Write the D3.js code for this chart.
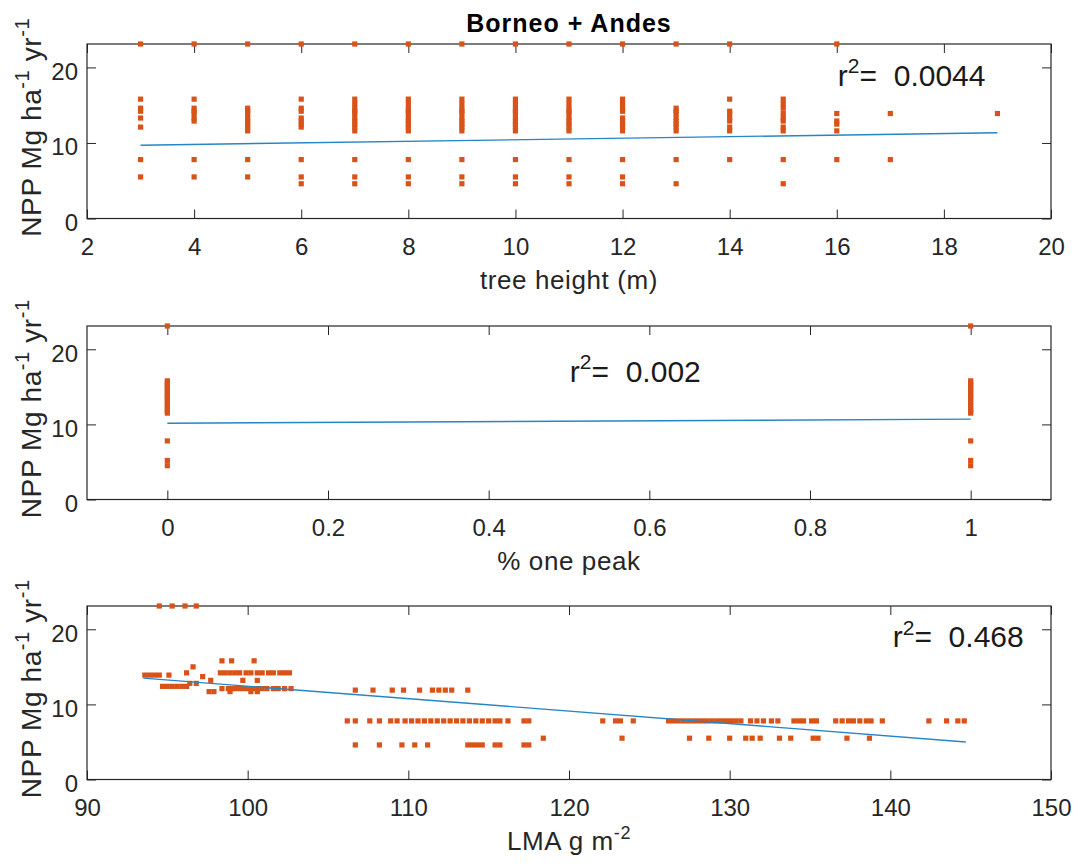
<!DOCTYPE html>
<html>
<head>
<meta charset="utf-8">
<script src="https://cdn.jsdelivr.net/npm/d3@7"></script>
<style>
  body { margin: 0; background: #fff; }
  text { font-family: "Liberation Sans", Arial, sans-serif; fill: #262626; }
</style>
</head>
<body>
<svg id="chart" width="1082" height="867"></svg>
<script>
// ---- data ----
var yTicks = [0, 10, 20];
var xTicksHeight = [2, 4, 6, 8, 10, 12, 14, 16, 18, 20];
var xTicksPeak = [0, 0.2, 0.4, 0.6, 0.8, 1];
var xTicksLma = [90, 100, 110, 120, 130, 140, 150];

// panel 1 : tree height (m) -> NPP values observed at that height
var heights = [3, 4, 5, 6, 7, 8, 9, 10, 11, 12, 13, 14, 15, 16, 17, 19];
var nppByHeight = [
  [23.1, 15.8, 14.6, 14.2, 13.3, 12.1, 7.8, 5.5],
  [23.1, 15.8, 14.6, 14.2, 13.9, 13.3, 12.9, 7.8, 5.5],
  [23.1, 14.6, 14.2, 13.9, 13.3, 12.9, 12.5, 12.1, 11.6, 7.8, 5.5],
  [23.1, 15.8, 14.6, 14.2, 13.3, 12.9, 12.5, 12.1, 7.8, 5.5, 4.6],
  [23.1, 15.8, 15.2, 14.6, 14.2, 13.9, 13.3, 12.9, 12.5, 12.1, 11.6, 7.8, 5.5, 4.6],
  [23.1, 15.8, 15.2, 14.6, 14.2, 13.9, 13.3, 12.9, 12.5, 12.1, 11.6, 7.8, 5.5, 4.6],
  [23.1, 15.8, 15.2, 14.6, 14.2, 13.9, 13.3, 12.9, 12.5, 12.1, 11.6, 7.8, 5.5, 4.6],
  [23.1, 15.8, 15.2, 14.6, 14.2, 13.9, 13.3, 12.9, 12.5, 12.1, 11.6, 7.8, 5.5, 4.6],
  [23.1, 15.8, 15.2, 14.6, 14.2, 13.9, 13.3, 12.9, 12.5, 12.1, 11.6, 7.8, 5.5, 4.6],
  [23.1, 15.8, 15.2, 14.6, 14.2, 13.3, 12.9, 12.5, 12.1, 11.6, 7.8, 5.5, 4.6],
  [23.1, 14.6, 14.2, 13.9, 13.3, 12.9, 12.5, 12.1, 11.6, 7.8, 4.6],
  [23.1, 15.8, 14.2, 13.9, 13.3, 12.9, 12.1, 11.6, 7.8],
  [15.8, 15.2, 14.6, 13.9, 13.3, 12.9, 12.1, 11.6, 7.8, 4.6],
  [23.1, 13.9, 12.9, 12.5, 11.6, 7.8],
  [13.9, 7.8],
  [13.9]
];
var fitHeightX = [3, 19];
var fitHeightY = [9.7, 11.35];

// panel 2 : % one peak -> NPP values
var peaks = [0, 1];
var nppByPeak = [
  [23.1, 15.8, 15.5, 15.2, 14.9, 14.6, 14.2, 13.9, 13.6, 13.3, 12.9, 12.5, 12.1, 11.8, 11.5, 7.8, 5.2, 4.5],
  [23.1, 15.8, 15.5, 15.2, 14.9, 14.6, 14.2, 13.9, 13.6, 13.3, 12.9, 12.5, 12.1, 11.8, 11.5, 7.8, 5.2, 4.5]
];
var fitPeakX = [0, 1];
var fitPeakY = [10.15, 10.7];

// panel 3 : NPP level -> LMA values (g m-2) observed at that level
var nppLevels = [23.1, 15.8, 15.0, 14.2, 13.9, 13.7, 13.2, 12.8, 12.4, 12.1, 11.9, 11.7, 7.8, 5.5, 4.6];
var lmaByLevel = [
  [94.5, 95.3, 96.1, 96.8],
  [98.4, 99.0, 100.4],
  [96.6],
  [96.2, 98.3, 98.6, 98.9, 99.2, 99.5, 99.9, 100.2, 100.6, 100.9, 101.3, 101.6, 102.0, 102.3, 102.6],
  [93.6, 93.9, 94.2, 94.5, 95.1],
  [97.2],
  [97.7, 99.7, 100.6],
  [96.4, 96.8],
  [94.7, 95.0, 95.3, 95.6, 95.9, 96.2],
  [98.4, 98.8, 99.0, 99.2, 99.5, 99.8, 100.1, 100.3, 100.6, 100.9, 101.2, 101.6, 101.9, 102.3, 102.7],
  [106.7, 107.8, 109.0, 109.7, 110.7, 111.5, 111.9, 112.3, 112.7, 113.7],
  [97.6, 97.9, 98.9, 100.2, 100.6],
  [106.2, 106.7, 107.6, 108.2, 108.9, 109.3, 109.8, 110.2, 110.6, 111.0, 111.4, 111.8, 112.2,
   112.6, 113.0, 113.4, 113.8, 114.2, 114.6, 115.0, 115.4, 115.7, 116.2, 117.2, 117.5,
   122.1, 122.9, 123.2, 124.0, 126.2, 126.5, 126.8, 127.1, 127.4, 127.7, 128.0, 128.3, 128.6,
   128.9, 129.2, 129.5, 129.8, 130.1, 130.4, 130.7, 131.3, 131.7, 132.1, 132.6, 133.0,
   134.0, 134.3, 134.6, 135.1, 135.4, 136.6, 137.0, 137.4, 137.7, 138.1, 138.5, 138.8, 139.5,
   142.4, 143.5, 144.2, 144.6],
  [118.4, 123.3, 127.5, 128.7, 130.0, 131.0, 131.4, 131.9, 133.1, 133.8, 135.2, 135.5, 137.3, 138.7],
  [106.7, 108.2, 109.6, 110.4, 111.2, 113.7, 114.0, 114.3, 114.6, 115.4, 115.7, 117.2, 117.5]
];
var fitLmaX = [93.5, 144.7];
var fitLmaY = [13.5, 5.0];

var r2Values = ["0.0044", "0.002", "0.468"];

// ---- flatten into point lists ----
function flatten(keys, groups, keyIsX) {
  var out = [];
  keys.forEach(function(k, i) {
    groups[i].forEach(function(v) {
      out.push(keyIsX ? { x: k, y: v } : { x: v, y: k });
    });
  });
  return out;
}

var panels = [
  { top: 44, bottom: 218.5, xDomain: [2, 20], xTicks: xTicksHeight,
    points: flatten(heights, nppByHeight, true),
    fit: [fitHeightX, fitHeightY], r2: r2Values[0], r2At: [16.02, 17.6],
    xlabel: [["tree height (m)", false]] },
  { top: 326, bottom: 499.5, xDomain: [-0.1, 1.1], xTicks: xTicksPeak,
    points: flatten(peaks, nppByPeak, true),
    fit: [fitPeakX, fitPeakY], r2: r2Values[1], r2At: [0.501, 15.7],
    xlabel: [["% one peak", false]] },
  { top: 606, bottom: 779.5, xDomain: [90, 150], xTicks: xTicksLma,
    points: flatten(nppLevels, lmaByLevel, false),
    fit: [fitLmaX, fitLmaY], r2: r2Values[2], r2At: [140.15, 17.6],
    xlabel: [["LMA g m", false], ["-2", true]] }
];

var left = 87, right = 1051;
var axisColor = "#262626";
var svg = d3.select("#chart");

svg.append("rect").attr("width", 1082).attr("height", 867).attr("fill", "#fff");

// Title
svg.append("text")
  .attr("x", (left + right) / 2)
  .attr("y", 31.5)
  .attr("text-anchor", "middle")
  .style("font-size", "25px")
  .style("font-weight", "bold")
  .style("letter-spacing", "1px")
  .style("fill", "#000")
  .text("Borneo + Andes");

function styleAxis(g, showLabels) {
  g.select(".domain").remove();
  g.selectAll(".tick line").attr("stroke", axisColor);
  g.selectAll(".tick text")
    .attr("fill", axisColor)
    .style("font-size", "24px")
    .style("font-family", '"Liberation Sans", Arial, sans-serif');
  if (!showLabels) g.selectAll(".tick text").remove();
}

// superscript helper: parts = [[text, isSup], ...]
function writeParts(t, parts, size) {
  parts.forEach(function(p, i) {
    var prevSup = i > 0 && parts[i - 1][1];
    var ts = t.append("tspan").text(p[0]);
    if (p[1]) {
      ts.attr("dy", -0.42 * size).style("font-size", Math.round(size * 0.7) + "px");
    } else if (prevSup) {
      ts.attr("dy", 0.42 * size);
    }
  });
}

panels.forEach(function(p) {
  var x = d3.scaleLinear().domain(p.xDomain).range([left, right]);
  var y = d3.scaleLinear().domain([0, 23.1]).range([p.bottom, p.top]);
  var g = svg.append("g");

  // axes with inward ticks on all four sides
  g.append("g").attr("transform", "translate(0," + p.bottom + ")")
    .call(d3.axisBottom(x).tickValues(p.xTicks).tickSizeInner(-9).tickSizeOuter(0)
      .tickPadding(19).tickFormat(d3.format("~g")))
    .call(styleAxis, true);
  g.append("g").attr("transform", "translate(0," + p.top + ")")
    .call(d3.axisTop(x).tickValues(p.xTicks).tickSizeInner(-9).tickSizeOuter(0))
    .call(styleAxis, false);
  var ya = g.append("g").attr("transform", "translate(" + left + ",0)")
    .call(d3.axisLeft(y).tickValues(yTicks).tickSizeInner(-9).tickSizeOuter(0)
      .tickPadding(9))
    .call(styleAxis, true);
  ya.selectAll(".tick text").attr("dy", "0.5em");
  g.append("g").attr("transform", "translate(" + right + ",0)")
    .call(d3.axisRight(y).tickValues(yTicks).tickSizeInner(-9).tickSizeOuter(0))
    .call(styleAxis, false);

  g.append("rect")
    .attr("x", left).attr("y", p.top)
    .attr("width", right - left).attr("height", p.bottom - p.top)
    .attr("fill", "none").attr("stroke", axisColor).attr("stroke-width", 1.2);

  // scatter markers
  g.append("g").selectAll("rect")
    .data(p.points).enter().append("rect")
    .attr("x", function(d) { return x(d.x) - 2.6; })
    .attr("y", function(d) { return y(d.y) - 2.6; })
    .attr("width", 5.2).attr("height", 5.2)
    .attr("fill", "#D95319");

  // fitted line
  var fitPts = p.fit[0].map(function(v, i) { return [v, p.fit[1][i]]; });
  g.append("path")
    .datum(fitPts)
    .attr("fill", "none")
    .attr("stroke", "#2586c6")
    .attr("stroke-width", 1.4)
    .attr("d", d3.line().x(function(d) { return x(d[0]); }).y(function(d) { return y(d[1]); }));

  // r^2 annotation
  var rt = g.append("text")
    .attr("x", x(p.r2At[0]))
    .attr("y", y(p.r2At[1]))
    .style("font-size", "30px")
    .style("fill", "#1a1a1a")
    .attr("xml:space", "preserve")
    .style("white-space", "pre");
  writeParts(rt, [["r", false], ["2", true], ["=  " + p.r2, false]], 30);

  // x label
  var xl = g.append("text")
    .attr("x", (left + right) / 2)
    .attr("y", p.bottom + 70)
    .attr("text-anchor", "middle")
    .style("font-size", "26px")
    .style("letter-spacing", "0.6px");
  writeParts(xl, p.xlabel, 26);

  // y label
  var yl = g.append("text")
    .attr("transform", "translate(41," + ((p.top + p.bottom) / 2 - 4) + ") rotate(-90)")
    .attr("text-anchor", "middle")
    .style("font-size", "28px")
    .style("letter-spacing", "0.6px");
  writeParts(yl, [["NPP Mg ha", false], ["-1", true], [" yr", false], ["-1", true]], 28);
});
</script>
</body>
</html>
